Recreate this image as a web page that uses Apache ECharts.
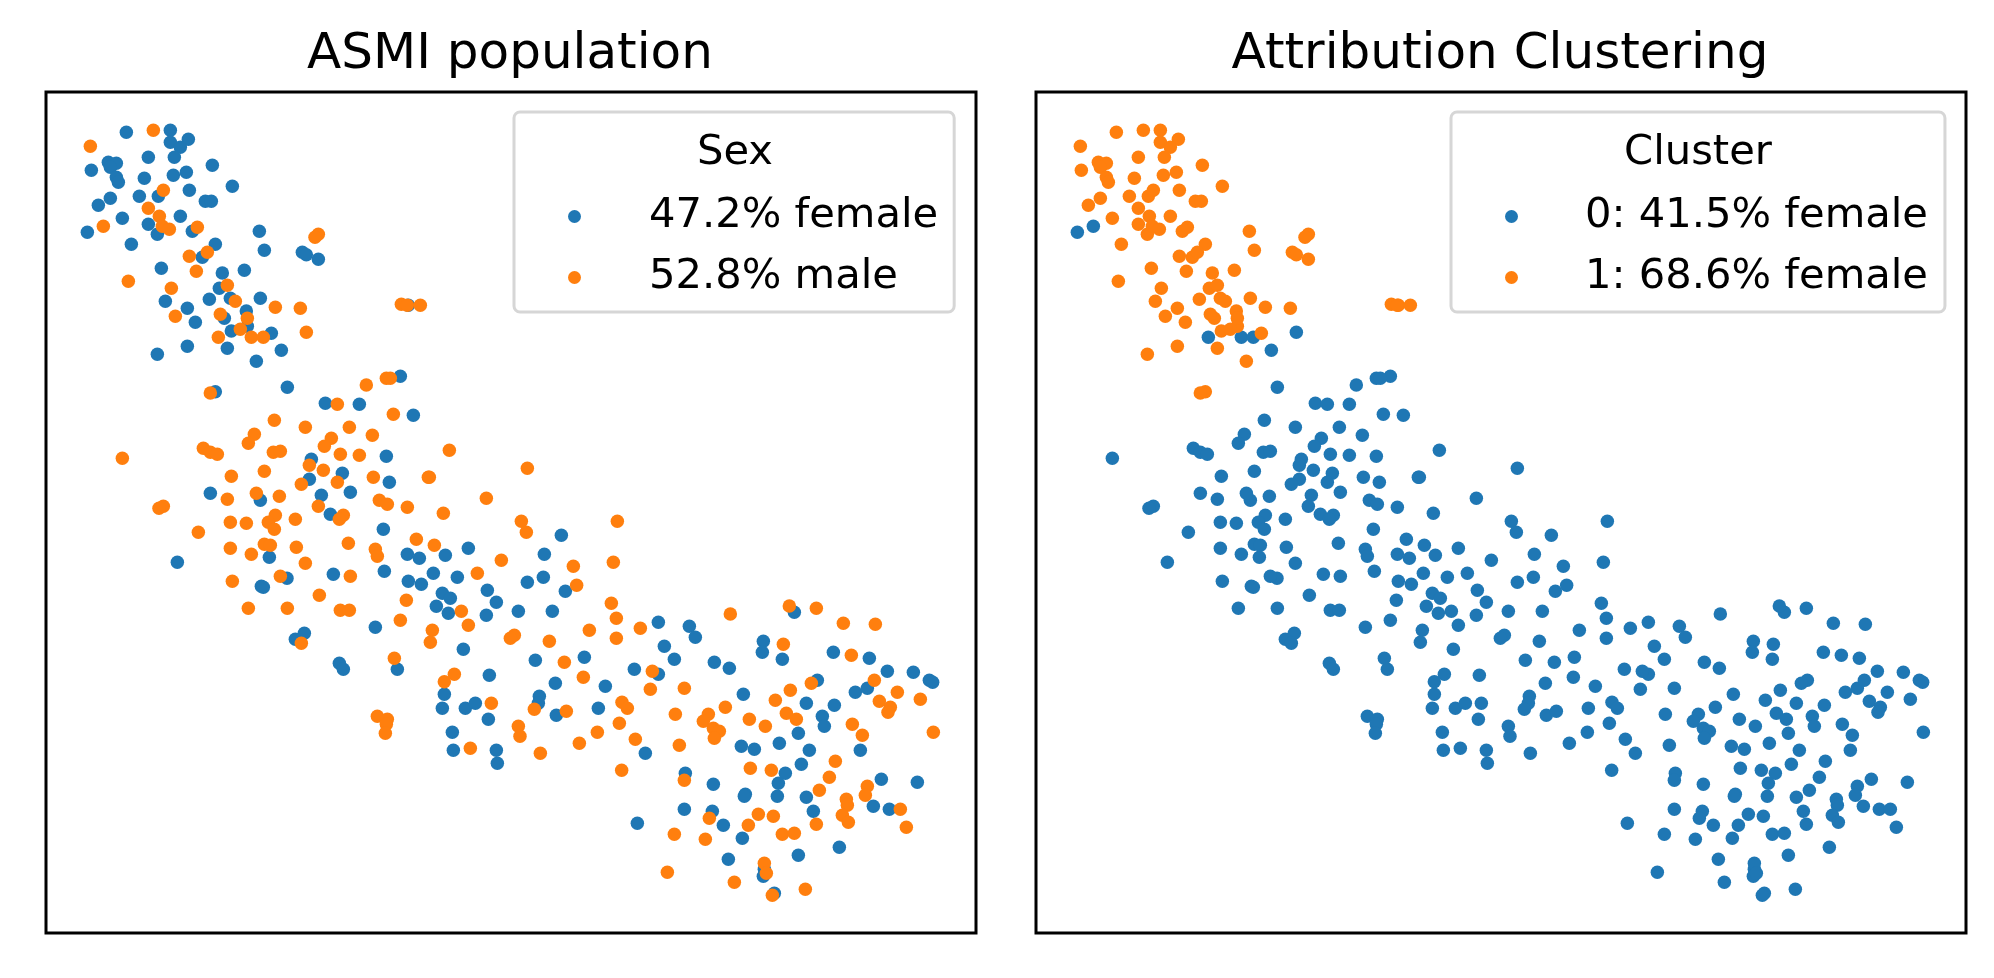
<!DOCTYPE html>
<html><head><meta charset="utf-8">
<style>html,body{margin:0;padding:0;background:#fff}#c{width:1994px;height:978px}</style>
<script src="https://cdn.jsdelivr.net/npm/echarts@6/dist/echarts.min.js"></script>
</head><body><div id="c"></div>
<script>
const femaleCluster1=[[241,121],[373,115],[373,151],[427,142],[403,166],[385,196],[307,196],[187,211],[211,214],[193,226],[136,235],[499,220],[421,241],[382,250],[295,259],[211,256],[217,271],[559,283],[430,295],[337,313],[280,313],[193,319],[157,340],[478,328],[496,328],[229,379],[403,373],[307,397],[334,427],[439,418],[256,457],[640,418],[508,457],[655,475],[769,481],[781,488],[817,502],[469,496],[346,529],[529,543],[595,535],[520,589],[553,619],[490,622],[643,619],[358,628],[424,649],[601,657],[535,679],[448,691],[604,703],[556,717],[676,724],[424,763],[544,769],[334,787],[631,808],[1087,640],[508,899]];
const maleCluster1=[[322,115],[133,163],[352,295],[307,349],[340,373],[349,403],[370,412],[454,406],[817,427],[807,436],[484,481],[430,493],[451,538],[247,568],[544,580],[376,589],[568,628],[688,646],[763,649],[523,667],[604,679],[583,712],[1066,637],[1084,640],[1123,640],[493,903],[388,673]];
const femaleCluster0=[[124,421],[706,775],[724,886],[1063,853],[838,934],[940,937],[1102,970],[796,1102],[1021,1093],[889,1144],[790,1162],[1030,1171],[493,1204],[643,1225],[826,1210],[913,1201],[853,1267],[1012,1312],[1084,1387],[1120,1399],[1198,1390],[1267,1369],[670,1396],[394,1411],[723,1459],[862,1447],[1015,1438],[1087,1468],[1126,1477],[1162,1444],[1234,1456],[646,1483],[652,1486],[1189,1504],[1213,1519],[1171,1543],[1207,1564],[1324,1495],[1351,1531],[1321,1570],[1417,1558],[1519,1558],[1444,1471],[1492,1456],[1495,1387],[1558,1498],[1546,1330],[988,1606],[775,1624],[748,1642],[880,1714],[892,1732],[1054,1732],[1252,1672],[1468,1705],[1330,1750],[1528,1774],[1195,1807],[1189,1849],[1258,1849],[1288,1834],[1327,1882],[1219,1921],[1222,1975],[1351,1975],[1354,2014],[1480,1813],[1477,1834],[1531,1870],[1615,1696],[1678,1783],[1657,1849],[2245,1561],[1837,1591],[1930,1603],[1948,1636],[2152,1648],[2149,1681],[2209,1702],[1855,1663],[1885,1702],[2005,1711],[2050,1729],[1765,1732],[1837,1747],[2362,1681],[2470,1699],[2524,1738],[2602,1741],[2650,1765],[2660,1771],[2314,1765],[2464,1789],[2428,1801],[2092,1807],[2281,1834],[2365,1840],[2329,1873],[2335,1903],[2257,1924],[2086,1963],[2125,1972],[2200,1954],[2290,1975],[2443,1975],[1798,1984],[2266,2017],[2218,2044],[2197,2074],[1918,2044],[2002,2077],[2098,2107],[2095,2113],[2194,2113],[2281,2116],[2506,2062],[2614,2071],[1915,2152],[1999,2158],[2302,2158],[2482,2143],[2530,2152],[1774,2194],[2032,2200],[2089,2239],[2380,2266],[2257,2290],[2047,2302],[2155,2332],[2152,2353],[2185,2404]];
const maleCluster0=[[172,403],[517,736],[616,736],[652,736],[781,721],[961,879],[1021,859],[1033,859],[874,937],[1042,967],[685,985],[778,1006],[910,1006],[625,1027],[607,1054],[856,1039],[835,1063],[979,1030],[472,1069],[493,1081],[514,1087],[682,1081],[703,1078],[883,1087],[940,1090],[1210,1075],[229,1099],[790,1120],[832,1135],[655,1138],[556,1153],[982,1156],[1147,1156],[1150,1156],[1444,1129],[874,1171],[766,1177],[631,1204],[544,1222],[700,1213],[1000,1225],[1024,1237],[1084,1246],[1321,1219],[817,1243],[352,1243],[339,1249],[1192,1264],[688,1270],[667,1291],[685,1312],[553,1291],[601,1294],[748,1282],[892,1270],[880,1282],[1426,1288],[1441,1321],[457,1321],[1111,1342],[1165,1360],[907,1354],[988,1372],[994,1393],[553,1369],[655,1357],[673,1360],[616,1387],[751,1366],[778,1414],[1366,1405],[703,1453],[913,1453],[1294,1444],[1582,1423],[1592,1480],[559,1468],[820,1510],[1081,1525],[607,1549],[724,1549],[883,1555],[910,1555],[1246,1558],[1267,1600],[1063,1585],[1159,1615],[1153,1651],[1405,1630],[1393,1639],[1510,1648],[766,1654],[1045,1699],[1555,1711],[1225,1747],[1195,1769],[1336,1834],[1465,1852],[1561,1858],[994,1873],[1024,1882],[1021,1897],[1018,1924],[1273,1969],[1417,1903],[1422,1933],[1483,1984],[1600,1954],[1714,1288],[1702,1411],[1696,1534],[1711,1579],[1630,1615],[1711,1639],[1612,1756],[1720,1894],[1654,1921],[2053,1566],[2230,1542],[2311,1549],[2392,1594],[2488,1597],[1783,1609],[2212,1657],[2416,1690],[1819,1738],[2485,1765],[2296,1774],[1813,1792],[1915,1789],[2233,1795],[2188,1825],[2554,1801],[2500,1828],[2623,1822],[1728,1831],[1744,1849],[2533,1846],[2526,1861],[2038,1846],[1888,1867],[1987,1867],[1972,1888],[2221,1864],[2251,1882],[2110,1882],[2158,1903],[2419,1897],[2449,1930],[2002,1909],[2020,1918],[2005,1939],[2662,1921],[1768,1942],[1900,1960],[1727,2035],[2113,2029],[2176,2035],[2368,2008],[2350,2056],[1915,2065],[2464,2083],[2458,2110],[2320,2095],[2401,2122],[2404,2140],[2389,2170],[2407,2191],[2563,2152],[2581,2206],[1990,2179],[2137,2167],[2182,2173],[2107,2200],[2311,2197],[1885,2227],[1978,2242],[2209,2227],[2245,2224],[1864,2341],[2155,2314],[2161,2344],[2065,2371],[2179,2410],[2278,2392]];

const panelTitles=["ASMI population","Attribution Clustering"];
const legendTitles=["Sex","Cluster"];
const sexNames=["47.2% female","52.8% male"];
const clusterNames=["0: 41.5% female","1: 68.6% female"];
const BLUE="#1f77b4",ORANGE="#ff7f0e",FONT="DejaVu Sans";

const grids=[{left:46,top:92,width:930,height:841},{left:1036,top:92,width:930,height:841}];
const axis=(gridIndex,max)=>({type:"value",gridIndex,min:0,max,show:false,splitLine:{show:false}});
const ser=(name,i,color,data)=>({name,type:"scatter",xAxisIndex:i,yAxisIndex:i,data,symbol:"circle",symbolSize:13.5,
  itemStyle:{color,opacity:1,borderWidth:0},silent:true,animation:false});
const legend=(names,left,pl,pr,tp)=>({data:names.map(n=>({name:n,icon:"circle",itemStyle:{borderWidth:0}})),orient:"vertical",left,top:112,
  itemWidth:13,itemHeight:13,itemGap:18,padding:[83,pr,13,pl],backgroundColor:"#fff",borderColor:"#d6d6d6",borderWidth:3,borderRadius:6,
  selectedMode:false,textStyle:{fontFamily:FONT,fontSize:41.67,color:"#000",lineHeight:41,padding:[2,0,0,tp]}});
const titleStyle=s=>({fontFamily:FONT,fontSize:s,fontWeight:"normal",color:"#000"});

const chart=echarts.init(document.getElementById("c"),null,{renderer:"canvas"});
chart.setOption({
  animation:false,backgroundColor:"#fff",
  grid:grids.map(g=>({...g,show:true,borderColor:"#000",borderWidth:3,backgroundColor:"#fff"})),
  xAxis:[axis(0,2790),axis(1,2790)],
  yAxis:[{...axis(0,2523),inverse:true},{...axis(1,2523),inverse:true}],
  title:[
    {text:panelTitles[0],left:505,top:25,textAlign:"center",textStyle:titleStyle(50)},
    {text:panelTitles[1],left:1495,top:25,textAlign:"center",textStyle:titleStyle(50)},
    {text:legendTitles[0],left:730,top:127,textAlign:"center",z:20,textStyle:titleStyle(41.67)},
    {text:legendTitles[1],left:1693,top:127,textAlign:"center",z:20,textStyle:titleStyle(41.67)}
  ],
  legend:[legend(sexNames,514,54,16,63),legend(clusterNames,1451,54,17,62)],
  series:[
    ser(sexNames[0],0,BLUE,femaleCluster0.concat(femaleCluster1)),
    ser(sexNames[1],0,ORANGE,maleCluster0.concat(maleCluster1)),
    ser(clusterNames[0],1,BLUE,femaleCluster0.concat(maleCluster0)),
    ser(clusterNames[1],1,ORANGE,femaleCluster1.concat(maleCluster1))
  ]
});
</script></body></html>
